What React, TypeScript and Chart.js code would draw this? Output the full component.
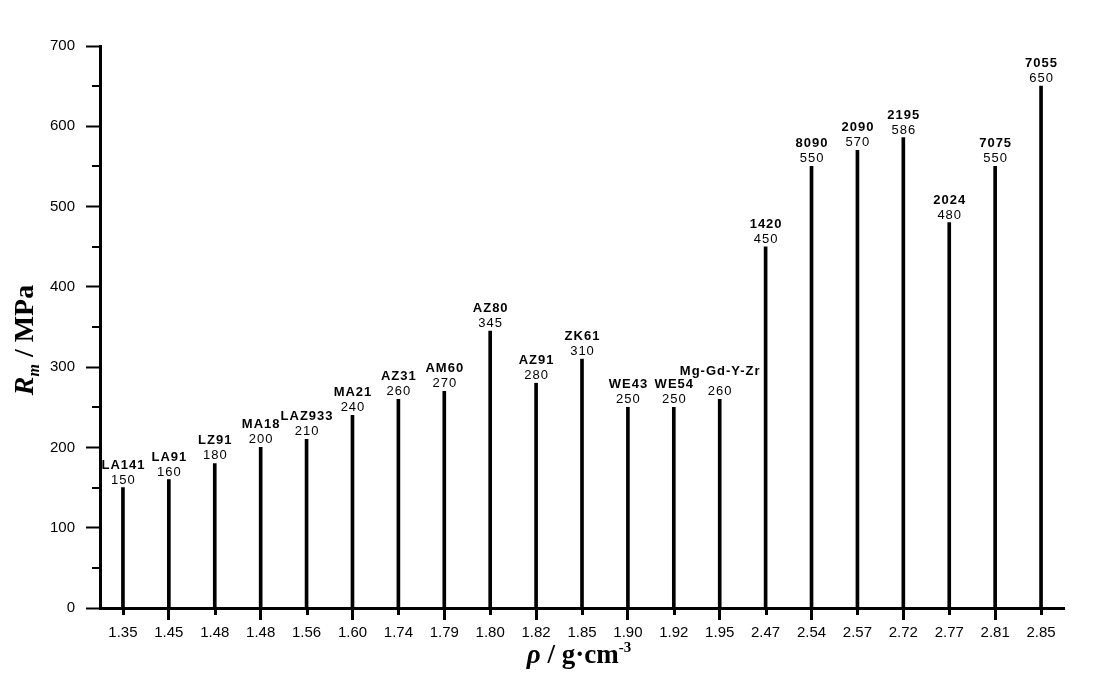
import React, { useEffect, useRef } from 'react';
import { Chart, registerables } from 'chart.js';

Chart.register(...registerables);

const alloyNames = ['LA141', 'LA91', 'LZ91', 'MA18', 'LAZ933', 'MA21', 'AZ31', 'AM60', 'AZ80', 'AZ91', 'ZK61', 'WE43', 'WE54', 'Mg-Gd-Y-Zr', '1420', '8090', '2090', '2195', '2024', '7075', '7055'];
const densities = ['1.35', '1.45', '1.48', '1.48', '1.56', '1.60', '1.74', '1.79', '1.80', '1.82', '1.85', '1.90', '1.92', '1.95', '2.47', '2.54', '2.57', '2.72', '2.77', '2.81', '2.85'];
const strengths = [150, 160, 180, 200, 210, 240, 260, 270, 345, 280, 310, 250, 250, 260, 450, 550, 570, 586, 480, 550, 650];
const yMin = 0;
const yMax = 700;
const yStep = 50;

const SANS = '"Liberation Sans", Arial, sans-serif';
const SERIF = '"Liberation Serif", "Times New Roman", serif';

const extraLift: Record<string, number> = { 'Mg-Gd-Y-Zr': 5 };

const decorPlugin = {
  id: 'decor',
  afterDatasetsDraw(chart: any) {
    const ctx = chart.ctx;
    const meta = chart.getDatasetMeta(0);
    ctx.save();
    ctx.fillStyle = '#000';
    ctx.textAlign = 'center';
    ctx.textBaseline = 'alphabetic';
    (ctx as any).letterSpacing = '1px';
    meta.data.forEach((el: any, i: number) => {
      const x = el.x + 0.5;
      const y = el.y;
      const lift = extraLift[alloyNames[i]] || 0;
      ctx.font = `13px ${SANS}`;
      ctx.fillText(String(strengths[i]), x, y - 4);
      ctx.font = `bold 13px ${SANS}`;
      ctx.fillText(alloyNames[i], x, y - 19 - lift);
    });
    ctx.restore();
  },
  afterDraw(chart: any) {
    const ctx = chart.ctx;
    const xs = chart.scales.x;
    const ys = chart.scales.y;
    const area = chart.chartArea;
    ctx.save();
    ctx.strokeStyle = '#000';
    // minor y ticks
    ctx.lineWidth = 2;
    for (let v = yMin; v <= yMax; v += yStep) {
      if (v % 100 === 0) continue;
      const py = Math.round(ys.getPixelForValue(v));
      ctx.beginPath();
      ctx.moveTo(area.left - 8, py);
      ctx.lineTo(area.left, py);
      ctx.stroke();
    }
    // short x ticks
    ctx.lineWidth = 3;
    densities.forEach((_, i) => {
      if (i % 2 === 1) return;
      const px = Math.round(xs.getPixelForValue(i)) + 0.5;
      ctx.beginPath();
      ctx.moveTo(px, area.bottom);
      ctx.lineTo(px, area.bottom + 7);
      ctx.stroke();
    });

    ctx.fillStyle = '#000';
    ctx.textBaseline = 'alphabetic';
    ctx.textAlign = 'left';

    // y title
    const yParts = [
      { t: 'R', f: `italic bold 28px ${SERIF}`, dy: 0 },
      { t: 'm', f: `italic bold 16px ${SERIF}`, dy: 6 },
      { t: ' / MPa', f: `bold 28px ${SERIF}`, dy: 0 },
    ];
    let total = 0;
    yParts.forEach((p) => { ctx.font = p.f; total += ctx.measureText(p.t).width; });
    ctx.save();
    ctx.translate(33, 340);
    ctx.rotate(-Math.PI / 2);
    let cx = -total / 2;
    yParts.forEach((p) => {
      ctx.font = p.f;
      ctx.fillText(p.t, cx, p.dy);
      cx += ctx.measureText(p.t).width;
    });
    ctx.restore();

    // x title
    const xParts = [
      { t: 'ρ', f: `italic bold 27px ${SERIF}`, dy: 0 },
      { t: ' / g·cm', f: `bold 27px ${SERIF}`, dy: 0 },
      { t: '-3', f: `bold 15px ${SERIF}`, dy: -11 },
    ];
    total = 0;
    xParts.forEach((p) => { ctx.font = p.f; total += ctx.measureText(p.t).width; });
    cx = 579 - total / 2;
    xParts.forEach((p) => {
      ctx.font = p.f;
      ctx.fillText(p.t, cx, 663 + p.dy);
      cx += ctx.measureText(p.t).width;
    });
    ctx.restore();
  },
};

export default function App() {
  const ref = useRef<HTMLCanvasElement | null>(null);
  useEffect(() => {
    if (!ref.current) return;
    const chart = new Chart(ref.current, {
      type: 'bar',
      data: {
        labels: densities,
        datasets: [
          {
            data: strengths,
            backgroundColor: '#000',
            borderWidth: 0,
            barThickness: 3,
          },
        ],
      },
      options: {
        animation: false,
        responsive: false,
        devicePixelRatio: 1,
        layout: { padding: { left: 0, top: 46, right: 32, bottom: 0 } },
        plugins: { legend: { display: false }, tooltip: { enabled: false }, title: { display: false } },
        scales: {
          x: {
            type: 'category',
            offset: true,
            grid: {
              display: true,
              drawOnChartArea: false,
              offset: false,
              drawTicks: true,
              tickLength: 12,
              tickWidth: 3,
              tickColor: (c: any) => (c.index % 2 === 1 ? '#000' : 'rgba(0,0,0,0)'),
            },
            border: { display: true, color: '#000', width: 3 },
            ticks: {
              color: '#000',
              font: { family: SANS, size: 15 },
              padding: 4,
              maxRotation: 0,
              minRotation: 0,
              autoSkip: false,
            },
            afterFit: (s: any) => { s.height = 66; },
          },
          y: {
            min: yMin,
            max: yMax,
            grid: {
              display: true,
              drawOnChartArea: false,
              drawTicks: true,
              tickLength: 14,
              tickWidth: 2,
              tickColor: (c: any) => (c.tick && c.tick.value % 100 === 0 ? '#000' : 'rgba(0,0,0,0)'),
            },
            border: { display: true, color: '#000', width: 3 },
            ticks: {
              stepSize: yStep,
              color: '#000',
              font: { family: SANS, size: 15 },
              padding: 11,
              callback: (v: any) => (Number(v) % 100 === 0 ? String(v) : ''),
            },
            afterFit: (s: any) => { s.width = 100; },
          },
        },
      },
      plugins: [decorPlugin],
    });
    return () => chart.destroy();
  }, []);
  return (
    <div style={{ position: 'fixed', left: 0, top: 0, width: 1096, height: 674, background: '#fff' }}>
      <canvas ref={ref} width={1096} height={674} style={{ display: 'block', width: 1096, height: 674 }} />
    </div>
  );
}
